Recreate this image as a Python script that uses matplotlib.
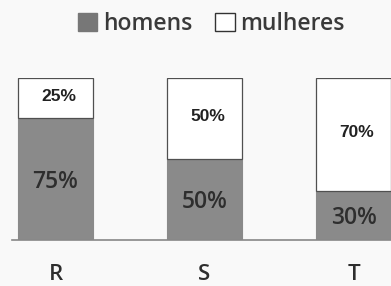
import matplotlib
matplotlib.use('Agg')
import matplotlib.pyplot as plt
from matplotlib.patches import Patch

categorias = ['R', 'S', 'T']
homens = [75, 50, 30]
mulheres = [25, 50, 70]
rotulos_homens = ['75%', '50%', '30%']
rotulos_mulheres = ['25%', '50%', '70%']

fig = plt.figure(figsize=(3.91, 2.86), dpi=100, facecolor='#f9f9f9')
ax = fig.add_axes([12 / 391, 1 - 240 / 286, 1 - 12 / 391, (240 - 77.5) / 286])
ax.set_facecolor('#f9f9f9')

x = list(range(len(categorias)))
w = 0.505
ax.bar(x, homens, width=w, color='#8a8a8a', edgecolor='#8a8a8a', linewidth=0.8)
ax.bar(x, mulheres, width=w, bottom=homens, color='white',
       edgecolor='#505050', linewidth=0.9)

for i in x:
    ax.text(i, homens[i] / 2 - 1.5, rotulos_homens[i], ha='center', va='center',
            fontsize=16.5, color='#2e2e2e', family='Open Sans',
            fontweight='semibold')
    ax.text(i + 0.02, homens[i] + mulheres[i] / 2 + 1, rotulos_mulheres[i],
            ha='center', va='center', fontsize=12.5, fontweight='bold',
            color='#222222', family='Liberation Sans')

ax.set_xlim(-43.5 / 149, (391 - 55.5) / 149)
ax.set_ylim(0, 100)
for s in ['top', 'right', 'left']:
    ax.spines[s].set_visible(False)
ax.spines['bottom'].set_color('#888888')
ax.spines['bottom'].set_linewidth(1.2)
ax.set_yticks([])
ax.set_xticks(x)
ax.set_xticklabels(categorias, fontsize=16, color='#2e2e2e',
                   family='Open Sans', fontweight='semibold')
ax.tick_params(axis='x', length=0, pad=17)

handles = [Patch(facecolor='#777777', edgecolor='#777777'),
           Patch(facecolor='white', edgecolor='#333333')]
fig.legend(handles, ['homens', 'mulheres'], loc='center', ncol=2,
           bbox_to_anchor=(0.54, 1 - 24 / 286), frameon=False,
           prop={'family': 'Open Sans', 'size': 16.5, 'weight': 'semibold'},
           handlelength=0.85, handleheight=0.85, handletextpad=0.25,
           columnspacing=1.0, labelcolor='#3a3a3a')

fig.savefig('out.png', dpi=100, facecolor=fig.get_facecolor())
